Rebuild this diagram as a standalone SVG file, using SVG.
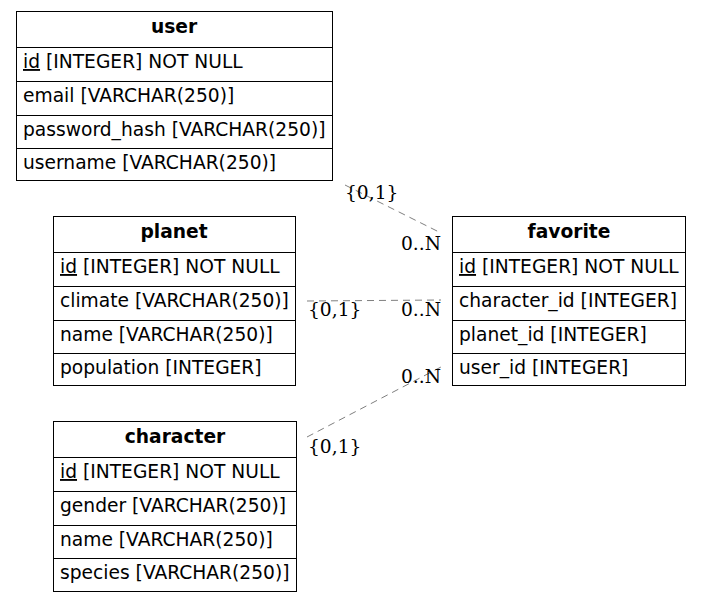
<svg xmlns="http://www.w3.org/2000/svg" width="703" height="603" viewBox="0 0 703 603">
<style>
.box{fill:#fff;stroke:#000;stroke-width:1}
.sep{stroke:#000;stroke-width:1}
.h{font-family:"DejaVu Sans",sans-serif;font-size:18.67px;font-weight:bold;text-anchor:middle}
.r{font-family:"DejaVu Sans",sans-serif;font-size:18.67px}
.u{text-decoration:underline}
.c{fill:none;stroke:#7f7f7f;stroke-width:1;stroke-dasharray:7,5}
.l{font-family:"DejaVu Serif",serif;font-size:18.67px}
.e{text-anchor:end}
</style>
<rect width="703" height="603" fill="#fff"/>
<g id="connectors">
<line class="c" x1="345" y1="185" x2="441" y2="233"/>
<line class="c" x1="307" y1="301" x2="441" y2="300"/>
<line class="c" x1="307" y1="437" x2="441" y2="367"/>
<text class="l" x="345" y="199">{0,1}</text>
<text class="l e" x="441" y="250">0..N</text>
<text class="l" x="308" y="316">{0,1}</text>
<text class="l e" x="441" y="316">0..N</text>
<text class="l e" x="441" y="383">0..N</text>
<text class="l" x="308" y="453">{0,1}</text>
</g>
<g id="user">
<rect class="box" x="16.5" y="11.5" width="316" height="169"/>
<line class="sep" x1="16.5" y1="47.5" x2="332.5" y2="47.5"/>
<line class="sep" x1="16.5" y1="81.5" x2="332.5" y2="81.5"/>
<line class="sep" x1="16.5" y1="115.5" x2="332.5" y2="115.5"/>
<line class="sep" x1="16.5" y1="148.5" x2="332.5" y2="148.5"/>
<text class="h" x="174" y="33">user</text>
<text class="r" x="23" y="68"><tspan class="u">id</tspan> [INTEGER] NOT NULL</text>
<text class="r" x="23" y="102">email [VARCHAR(250)]</text>
<text class="r" x="23" y="136">password_hash [VARCHAR(250)]</text>
<text class="r" x="23" y="169">username [VARCHAR(250)]</text>
</g>
<g id="planet">
<rect class="box" x="53.5" y="216.5" width="242" height="169"/>
<line class="sep" x1="53.5" y1="252.5" x2="295.5" y2="252.5"/>
<line class="sep" x1="53.5" y1="286.5" x2="295.5" y2="286.5"/>
<line class="sep" x1="53.5" y1="320.5" x2="295.5" y2="320.5"/>
<line class="sep" x1="53.5" y1="353.5" x2="295.5" y2="353.5"/>
<text class="h" x="174" y="238">planet</text>
<text class="r" x="60" y="273"><tspan class="u">id</tspan> [INTEGER] NOT NULL</text>
<text class="r" x="60" y="307">climate [VARCHAR(250)]</text>
<text class="r" x="60" y="341">name [VARCHAR(250)]</text>
<text class="r" x="60" y="374">population [INTEGER]</text>
</g>
<g id="favorite">
<rect class="box" x="452.5" y="216.5" width="233" height="169"/>
<line class="sep" x1="452.5" y1="252.5" x2="685.5" y2="252.5"/>
<line class="sep" x1="452.5" y1="286.5" x2="685.5" y2="286.5"/>
<line class="sep" x1="452.5" y1="320.5" x2="685.5" y2="320.5"/>
<line class="sep" x1="452.5" y1="353.5" x2="685.5" y2="353.5"/>
<text class="h" x="569" y="238">favorite</text>
<text class="r" x="459" y="273"><tspan class="u">id</tspan> [INTEGER] NOT NULL</text>
<text class="r" x="459" y="307">character_id [INTEGER]</text>
<text class="r" x="459" y="341">planet_id [INTEGER]</text>
<text class="r" x="459" y="374">user_id [INTEGER]</text>
</g>
<g id="character">
<rect class="box" x="53.5" y="421.5" width="243" height="170"/>
<line class="sep" x1="53.5" y1="457.5" x2="296.5" y2="457.5"/>
<line class="sep" x1="53.5" y1="491.5" x2="296.5" y2="491.5"/>
<line class="sep" x1="53.5" y1="525.5" x2="296.5" y2="525.5"/>
<line class="sep" x1="53.5" y1="558.5" x2="296.5" y2="558.5"/>
<text class="h" x="175" y="443">character</text>
<text class="r" x="60" y="478"><tspan class="u">id</tspan> [INTEGER] NOT NULL</text>
<text class="r" x="60" y="512">gender [VARCHAR(250)]</text>
<text class="r" x="60" y="546">name [VARCHAR(250)]</text>
<text class="r" x="60" y="579">species [VARCHAR(250)]</text>
</g>
</svg>
